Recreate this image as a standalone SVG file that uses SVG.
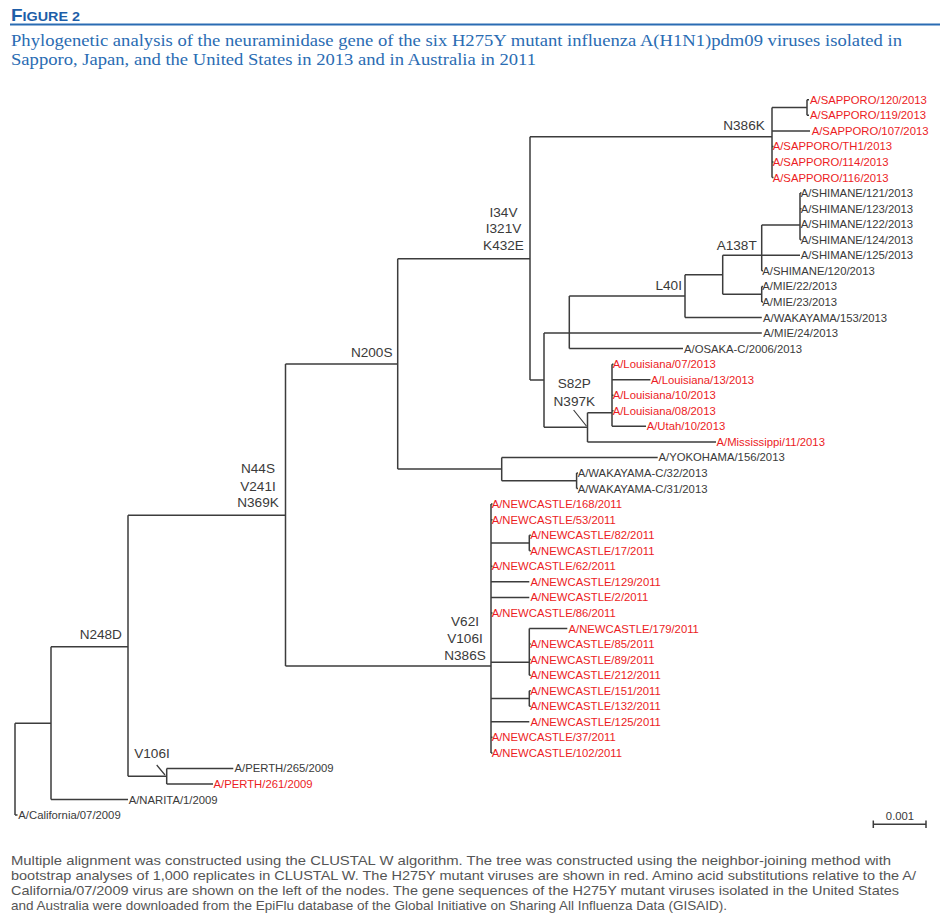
<svg xmlns="http://www.w3.org/2000/svg" width="950" height="918" viewBox="0 0 950 918">
<style>
.lf{font-family:"Liberation Sans",Arial,sans-serif;font-size:11.3px;fill:#3a3a3a}
.rd{font-family:"Liberation Sans",Arial,sans-serif;font-size:11.3px;fill:#ec1c24}
.mu{font-family:"Liberation Sans",Arial,sans-serif;font-size:13.6px;fill:#3a3a3a;text-anchor:middle}
.br{fill:none;stroke:#3c3c3c;stroke-width:1.5}
.ttl{font-family:"Liberation Serif","Times New Roman",serif;font-size:16.5px;fill:#2a6cb3}
.cap{font-family:"Liberation Sans",Arial,sans-serif;font-size:13px;fill:#555}
</style>
<rect width="950" height="918" fill="#fff"/>
<g id="header">
<text x="11" y="21" font-family="Liberation Sans,Arial,sans-serif" font-weight="bold" fill="#1d5ea8" textLength="69" lengthAdjust="spacingAndGlyphs"><tspan font-size="16.5px">F</tspan><tspan font-size="12.5px">IGURE 2</tspan></text>
<line x1="10" y1="24.5" x2="940" y2="24.5" stroke="#2a6cb3" stroke-width="2"/>
<text class="ttl" x="11" y="46" textLength="891" lengthAdjust="spacingAndGlyphs">Phylogenetic analysis of the neuraminidase gene of the six H275Y mutant influenza A(H1N1)pdm09 viruses isolated in</text>
<text class="ttl" x="11" y="65" textLength="525" lengthAdjust="spacingAndGlyphs">Sapporo, Japan, and the United States in 2013 and in Australia in 2011</text>
</g>
<g id="connectors" class="br">
<path d="M15,723.3V815.1M15,815.1H17.5M15,723.3H51"/>
<path d="M51,646.7V799.55M51,799.55H128M51,646.7H128"/>
<path d="M128,515.3V776.2M128,776.2H166.7M128,515.3H285.5"/>
<path d="M166.7,768.45V784M166.7,768.45H233.3M166.7,784H213"/>
<path d="M285.5,364V666M285.5,364H397.7M285.5,666H491"/>
<path d="M397.7,258.7V469.1M397.7,258.7H530M397.7,469.1H501.7"/>
<path d="M501.7,457.45V480.8M501.7,457.45H657.7M501.7,480.8H576.6"/>
<path d="M576.6,473V488.55M576.6,473H578M576.6,488.55H578"/>
<path d="M530,136.7V380M530,136.7H772M530,380H544"/>
<path d="M772,107.6V177.55M772,107.6H807M772,130.9H810M772,146.45H773.5M772,162H773.5M772,177.55H773.5"/>
<path d="M807,99.8V115.35M807,99.8H809M807,115.35H809"/>
<path d="M544,333.05V427.3M544,333.05H761.8M544,427.3H587.5"/>
<path d="M569.3,296.1V348.6M569.3,296.1H685M569.3,348.6H683"/>
<path d="M685,274.75V317.5M685,274.75H722.7M685,317.5H761.8"/>
<path d="M722.7,255.3V294.2M722.7,255.3H800M722.7,294.2H761.7"/>
<path d="M761.7,225V270.85M761.7,225H800M761.7,270.85H763"/>
<path d="M800,193.1V239.75M800,193.1H801.5M800,208.65H801.5M800,239.75H801.5"/>
<path d="M761.7,286.4V301.95M761.7,286.4H763M761.7,301.95H763"/>
<path d="M587.5,412.7V441.9M587.5,412.7H612M587.5,441.9H716"/>
<path d="M612,364.15V426.35M612,379.7H650.4M612,426.35H646M612,364.15H613.5M612,395.25H613.5M612,410.8H613.5"/>
<path d="M491,504.1V752.9M491,543H529.3M491,581.85H529.3M491,597.4H529.3M491,662.3H529.3M491,698.5H529.3M491,721.8H529.3M491,504.1H492.5M491,519.65H492.5M491,566.3H492.5M491,612.95H492.5M491,737.35H492.5M491,752.9H492.5"/>
<path d="M529.3,535.2V550.75M529.3,535.2H530.8M529.3,550.75H530.8"/>
<path d="M529.3,628.5V675.15M529.3,628.5H567.3M529.3,644.05H530.8M529.3,659.6H530.8M529.3,675.15H530.8"/>
<path d="M529.3,690.7V706.25M529.3,690.7H530.8M529.3,706.25H530.8"/>
<path d="M573.6,410L586.4,426M156.7,765L165,775" stroke-width="1.2"/>
</g>
<g id="mutations">
<g id="m-N386K"><text class="mu" x="744" y="130">N386K</text></g>
<g id="m-I34V"><text class="mu" x="503.5" y="216.6">I34V</text><text class="mu" x="503.5" y="232.6">I321V</text><text class="mu" x="503.5" y="249.9">K432E</text></g>
<g id="m-A138T"><text class="mu" x="736.7" y="250">A138T</text></g>
<g id="m-L40I"><text class="mu" x="668.7" y="290">L40I</text></g>
<g id="m-N200S"><text class="mu" x="371.7" y="357.2">N200S</text></g>
<g id="m-S82P"><text class="mu" x="574.3" y="388.2">S82P</text><text class="mu" x="574.3" y="405.6">N397K</text></g>
<g id="m-N44S"><text class="mu" x="258" y="473.2">N44S</text><text class="mu" x="258" y="490.6">V241I</text><text class="mu" x="258" y="507.2">N369K</text></g>
<g id="m-V62I"><text class="mu" x="465" y="625.6">V62I</text><text class="mu" x="465" y="643.2">V106I</text><text class="mu" x="465" y="659.6">N386S</text></g>
<g id="m-N248D"><text class="mu" x="100.8" y="638.5">N248D</text></g>
<g id="m-V106I"><text class="mu" x="152" y="757.9">V106I</text></g>
</g>
<g id="leaves">
<g id="l1"><text class="rd" x="810" y="103.8">A/SAPPORO/120/2013</text></g>
<g id="l2"><text class="rd" x="810" y="119.35">A/SAPPORO/119/2013</text></g>
<g id="l3"><text class="rd" x="811.7" y="134.9">A/SAPPORO/107/2013</text></g>
<g id="l4"><text class="rd" x="772.7" y="150.45">A/SAPPORO/TH1/2013</text></g>
<g id="l5"><text class="rd" x="772.7" y="166">A/SAPPORO/114/2013</text></g>
<g id="l6"><text class="rd" x="772.7" y="181.55">A/SAPPORO/116/2013</text></g>
<g id="l7"><text class="lf" x="800.7" y="197.1">A/SHIMANE/121/2013</text></g>
<g id="l8"><text class="lf" x="800.7" y="212.65">A/SHIMANE/123/2013</text></g>
<g id="l9"><text class="lf" x="800.7" y="228.2">A/SHIMANE/122/2013</text></g>
<g id="l10"><text class="lf" x="800.7" y="243.75">A/SHIMANE/124/2013</text></g>
<g id="l11"><text class="lf" x="800.7" y="259.3">A/SHIMANE/125/2013</text></g>
<g id="l12"><text class="lf" x="762.3" y="274.85">A/SHIMANE/120/2013</text></g>
<g id="l13"><text class="lf" x="762.3" y="290.4">A/MIE/22/2013</text></g>
<g id="l14"><text class="lf" x="762.3" y="305.95">A/MIE/23/2013</text></g>
<g id="l15"><text class="lf" x="763" y="321.5">A/WAKAYAMA/153/2013</text></g>
<g id="l16"><text class="lf" x="763.3" y="337.05">A/MIE/24/2013</text></g>
<g id="l17"><text class="lf" x="684" y="352.6">A/OSAKA-C/2006/2013</text></g>
<g id="l18"><text class="rd" x="612.7" y="368.15">A/Louisiana/07/2013</text></g>
<g id="l19"><text class="rd" x="651" y="383.7">A/Louisiana/13/2013</text></g>
<g id="l20"><text class="rd" x="612.7" y="399.25">A/Louisiana/10/2013</text></g>
<g id="l21"><text class="rd" x="612.7" y="414.8">A/Louisiana/08/2013</text></g>
<g id="l22"><text class="rd" x="646.7" y="430.35">A/Utah/10/2013</text></g>
<g id="l23"><text class="rd" x="716.5" y="445.9">A/Mississippi/11/2013</text></g>
<g id="l24"><text class="lf" x="658.5" y="461.45">A/YOKOHAMA/156/2013</text></g>
<g id="l25"><text class="lf" x="577.7" y="477">A/WAKAYAMA-C/32/2013</text></g>
<g id="l26"><text class="lf" x="577.7" y="492.55">A/WAKAYAMA-C/31/2013</text></g>
<g id="l27"><text class="rd" x="491.7" y="508.1">A/NEWCASTLE/168/2011</text></g>
<g id="l28"><text class="rd" x="491.7" y="523.65">A/NEWCASTLE/53/2011</text></g>
<g id="l29"><text class="rd" x="530.3" y="539.2">A/NEWCASTLE/82/2011</text></g>
<g id="l30"><text class="rd" x="530.3" y="554.75">A/NEWCASTLE/17/2011</text></g>
<g id="l31"><text class="rd" x="491.7" y="570.3">A/NEWCASTLE/62/2011</text></g>
<g id="l32"><text class="rd" x="530.5" y="585.85">A/NEWCASTLE/129/2011</text></g>
<g id="l33"><text class="rd" x="530.5" y="601.4">A/NEWCASTLE/2/2011</text></g>
<g id="l34"><text class="rd" x="491.7" y="616.95">A/NEWCASTLE/86/2011</text></g>
<g id="l35"><text class="rd" x="568.5" y="632.5">A/NEWCASTLE/179/2011</text></g>
<g id="l36"><text class="rd" x="530.3" y="648.05">A/NEWCASTLE/85/2011</text></g>
<g id="l37"><text class="rd" x="530.3" y="663.6">A/NEWCASTLE/89/2011</text></g>
<g id="l38"><text class="rd" x="530.3" y="679.15">A/NEWCASTLE/212/2011</text></g>
<g id="l39"><text class="rd" x="530.3" y="694.7">A/NEWCASTLE/151/2011</text></g>
<g id="l40"><text class="rd" x="530.3" y="710.25">A/NEWCASTLE/132/2011</text></g>
<g id="l41"><text class="rd" x="530.5" y="725.8">A/NEWCASTLE/125/2011</text></g>
<g id="l42"><text class="rd" x="491.7" y="741.35">A/NEWCASTLE/37/2011</text></g>
<g id="l43"><text class="rd" x="491.7" y="756.9">A/NEWCASTLE/102/2011</text></g>
<g id="l44"><text class="lf" x="234.5" y="772.45">A/PERTH/265/2009</text></g>
<g id="l45"><text class="rd" x="213.5" y="788">A/PERTH/261/2009</text></g>
<g id="l46"><text class="lf" x="128.7" y="803.55">A/NARITA/1/2009</text></g>
<g id="l47"><text class="lf" x="18.3" y="819.1">A/California/07/2009</text></g>
</g>
<g id="scalebar">
<path class="br" d="M873.3,824.3H926M873.3,820.5V828M926,820.5V828"/>
<text class="lf" x="900" y="819.7" text-anchor="middle">0.001</text>
</g>
<g id="caption">
<text class="cap" x="11" y="865" textLength="880" lengthAdjust="spacingAndGlyphs">Multiple alignment was constructed using the CLUSTAL W algorithm. The tree was constructed using the neighbor-joining method with</text>
<text class="cap" x="11" y="880" textLength="905" lengthAdjust="spacingAndGlyphs">bootstrap analyses of 1,000 replicates in CLUSTAL W. The H275Y mutant viruses are shown in red. Amino acid substitutions relative to the A/</text>
<text class="cap" x="11" y="895" textLength="888" lengthAdjust="spacingAndGlyphs">California/07/2009 virus are shown on the left of the nodes. The gene sequences of the H275Y mutant viruses isolated in the United States</text>
<text class="cap" x="11" y="910" textLength="716" lengthAdjust="spacingAndGlyphs">and Australia were downloaded from the EpiFlu database of the Global Initiative on Sharing All Influenza Data (GISAID).</text>
</g>
</svg>
